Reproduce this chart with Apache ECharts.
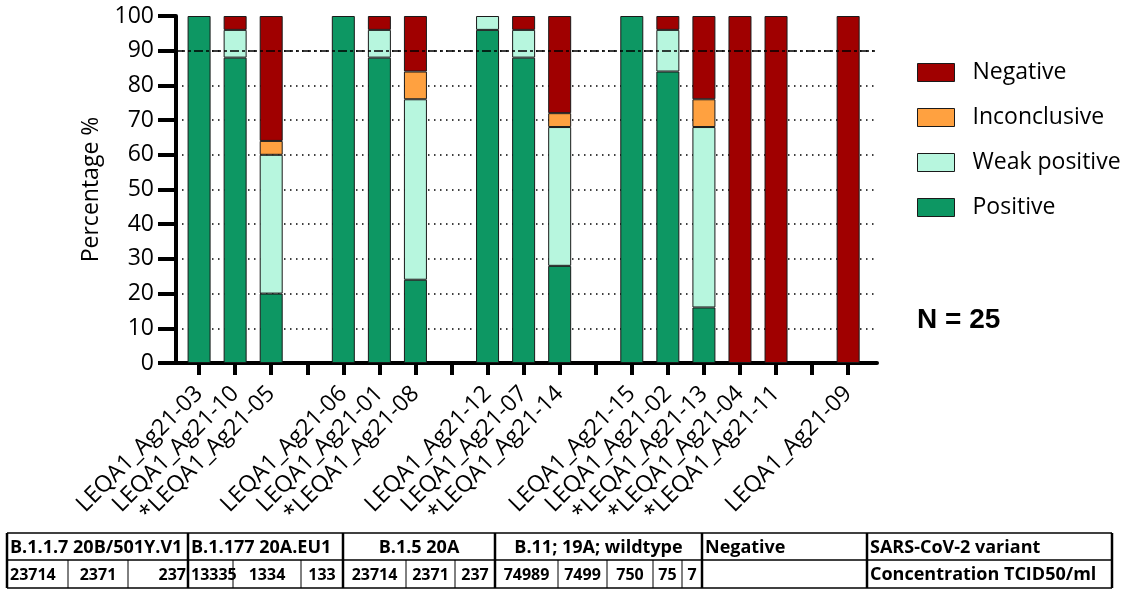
<!DOCTYPE html>
<html><head><meta charset="utf-8">
<script src="https://cdn.jsdelivr.net/npm/echarts@6/dist/echarts.min.js"></script>
<style>html,body{margin:0;padding:0;background:#fff}#c{width:1126px;height:592px}</style>
</head><body><div id="c"></div>
<script>
// ---- data ----
const categories = ['LEQA1_Ag21-03','LEQA1_Ag21-10','*LEQA1_Ag21-05','',
  'LEQA1_Ag21-06','LEQA1_Ag21-01','*LEQA1_Ag21-08','',
  'LEQA1_Ag21-12','LEQA1_Ag21-07','*LEQA1_Ag21-14','',
  'LEQA1_Ag21-15','LEQA1_Ag21-02','*LEQA1_Ag21-13','*LEQA1_Ag21-04','*LEQA1_Ag21-11','',
  'LEQA1_Ag21-09'];
const positive     = [100, 88, 20, null, 100, 88, 24, null, 96, 88, 28, null, 100, 84, 16, 0, 0, null, 0];
const weakPositive = [0, 8, 40, null, 0, 8, 52, null, 4, 8, 40, null, 0, 12, 52, 0, 0, null, 0];
const inconclusive = [0, 0, 4, null, 0, 0, 8, null, 0, 0, 4, null, 0, 0, 8, 0, 0, null, 0];
const negative     = [0, 4, 36, null, 0, 4, 16, null, 0, 4, 28, null, 0, 4, 24, 100, 100, null, 100];
const yTicks = [0,10,20,30,40,50,60,70,80,90,100];
const thresholdLine = 90;
const nLabel = 'N = 25';
const variantLabels = ['B.1.1.7 20B/501Y.V1','B.1.177 20A.EU1','B.1.5 20A','B.11; 19A; wildtype','Negative','SARS-CoV-2 variant'];
const concentrations = [['23714','2371','237'],['13335','1334','133'],['23714','2371','237'],['74989','7499','750','75','7'],[''],['Concentration TCID50/ml']];

// ---- layout helpers ----
const tickIdx = categories.map((c,i)=>i);
const labelIdx = categories.map((c,i)=>c ? i : -1).filter(i=>i>=0);
// data item = [value, slotIndex] so that the value dimension is the stacked one
const toData = arr => arr.map((v,i)=>[(v===null||v===0) ? '-' : v, i]);
const FONT = 'Open Sans';
const border = {borderColor:'#1a1a1a', borderWidth:1};

function mkSeries(name, arr, color, extra){
  return Object.assign({
    name, type:'bar', stack:'s', barWidth:23, data:toData(arr),
    dimensions:['val','slot'], encode:{x:'slot', y:'val'},
    itemStyle:Object.assign({color}, border)
  }, extra||{});
}

// ---- table (graphic) ----
const T = {top:533, mid:560, bot:588, left:7, right:1112};
const row1X = [7,188,343,495,702,867,1112];
const row2X = [[7,68,128,188],[188,233,301,343],[343,406,455,495],[495,558,607,653,682,702],[702,867],[867,1112]];
const row1Align = ['left','left','center','center','left','left'];
const row2Align = [['left','center','right'],['left','center','center'],['center','center','center'],['center','center','center','center','center'],['left'],['left']];
const g = [];
const L = (x1,y1,x2,y2,w)=>g.push({type:'line',shape:{x1,y1,x2,y2},style:{stroke:'#000',lineWidth:w}});
L(T.left,T.top,T.right,T.top,1.5); L(T.left,T.mid,T.right,T.mid,1.5); L(T.left,T.bot,T.right,T.bot,1.5);
row1X.forEach(x=>L(x,T.top,x,T.bot,2.5));
row2X.forEach(cols=>cols.slice(1,-1).forEach(x=>L(x,T.mid,x,T.bot,1)));
const txt = (s,x1,x2,y,align,size)=>{
  let x = align==='left'? x1+3 : align==='right'? x2-2 : (x1+x2)/2;
  g.push({type:'text',x,y,style:{text:s,fill:'#000',font:'bold '+size+'px "Open Sans"',align,verticalAlign:'middle'}});
};
variantLabels.forEach((s,i)=>txt(s,row1X[i],row1X[i+1],(T.top+T.mid)/2+1,row1Align[i],18));
concentrations.forEach((vals,gi)=>vals.forEach((s,j)=>txt(s,row2X[gi][j],row2X[gi][j+1],(T.mid+T.bot)/2+1,row2Align[gi][j], /\d/.test(s[0]||'') ? 16 : 18)));
g.push({type:'text',x:917,y:306,style:{text:nLabel,fill:'#000',font:'bold 28px "Liberation Sans"'}});

const chart = echarts.init(document.getElementById('c'));
chart.setOption({
  animation:false,
  backgroundColor:'#fff',
  grid:{left:176, top:16, width:701, height:347},
  legend:{orient:'vertical', left:912, top:56, itemWidth:37, itemHeight:18, itemGap:22, icon:'rect',
    data:['Negative','Inconclusive','Weak positive','Positive'],
    itemStyle:{borderColor:'#1a1a1a', borderWidth:1},
    textStyle:{fontSize:23, fontFamily:FONT, color:'#000', padding:[0,0,0,13]}},
  xAxis:{type:'value', min:-0.64, max:18.8,
    axisLine:{show:true, onZero:false, lineStyle:{color:'#000', width:4}},
    axisTick:{show:true, length:12, customValues:tickIdx, lineStyle:{color:'#000', width:4}},
    axisLabel:{customValues:labelIdx, formatter:v=>categories[Math.round(v)], rotate:45, margin:27,
      fontSize:23, fontFamily:FONT, color:'#000'},
    splitLine:{show:false}},
  yAxis:{type:'value', min:0, max:100, interval:10,
    name:'Percentage %', nameLocation:'middle', nameGap:73, nameRotate:90,
    nameTextStyle:{fontSize:23, fontFamily:FONT, color:'#000'},
    axisLine:{show:true, onZero:false, lineStyle:{color:'#000', width:4}},
    axisTick:{show:true, length:18, lineStyle:{color:'#000', width:4}},
    axisLabel:{fontSize:23, margin:22, fontFamily:FONT, color:'#000',
      formatter:v=>yTicks.includes(v)? String(v):''},
    splitLine:{show:true, showMinLine:false, showMaxLine:false, lineStyle:{type:[1.5,4.5], color:'#000', width:1.5}}},
  series:[
    mkSeries('Positive', positive, '#0d9763'),
    mkSeries('Weak positive', weakPositive, '#b7f6de'),
    mkSeries('Inconclusive', inconclusive, '#ffa140'),
    mkSeries('Negative', negative, '#a00000', {
      markLine:{silent:true, symbol:'none', label:{show:false},
        lineStyle:{color:'#000', type:[9,3,3,3], width:1.5},
        data:[{yAxis:thresholdLine}]}})
  ],
  graphic:g
});
</script></body></html>
